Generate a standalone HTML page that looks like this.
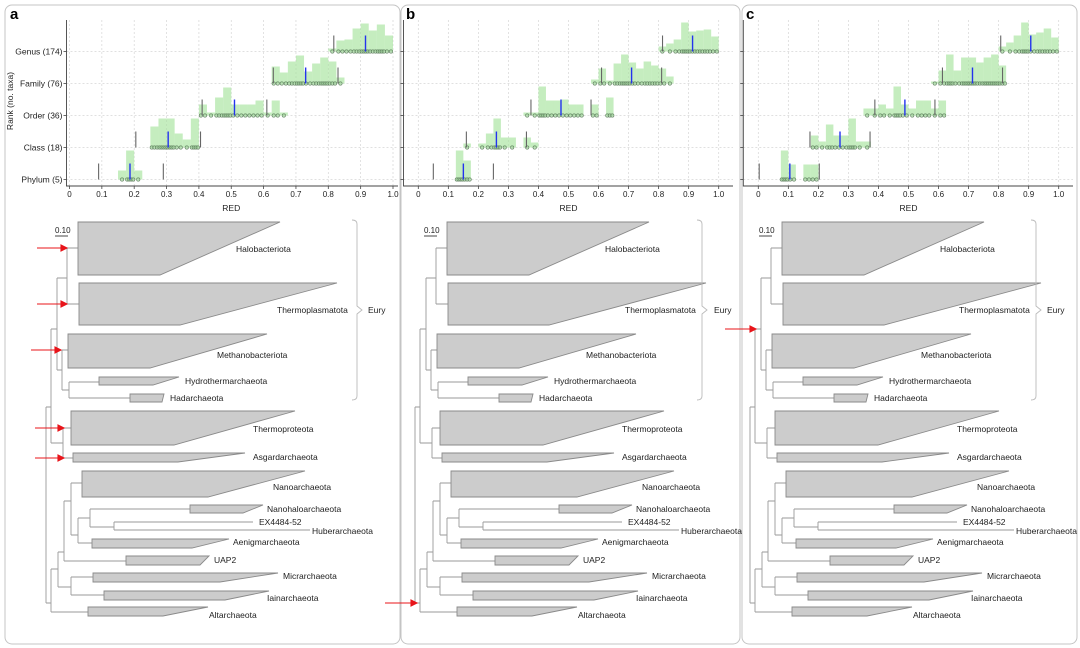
<!DOCTYPE html>
<html><head><meta charset="utf-8"><style>
html,body{margin:0;padding:0;background:#fff;}
svg{display:block;font-family:"Liberation Sans",sans-serif;}
</style></head><body>
<svg id="fig" width="1080" height="648" viewBox="0 0 1080 648">
<rect x="0" y="0" width="1080" height="648" fill="#fff"/>
<rect x="5" y="5" width="395" height="639" rx="7" fill="none" stroke="#c4c4c4"/>
<rect x="401" y="5" width="339" height="639" rx="7" fill="none" stroke="#c4c4c4"/>
<rect x="742" y="5" width="335" height="639" rx="7" fill="none" stroke="#c4c4c4"/>
<text x="10" y="19" font-size="15" font-weight="bold">a</text>
<text x="406" y="19" font-size="15" font-weight="bold">b</text>
<text x="746" y="19" font-size="15" font-weight="bold">c</text>
<text transform="translate(13,101) rotate(-90)" font-size="8.5" text-anchor="middle" fill="#222">Rank (no. taxa)</text>
<g id="charts"></g>
<defs>
<g id="tree">
 <g fill="none" stroke="#9a9a9a" stroke-width="0.9">
  <path d="M46,407V603M46,407H51M46,603H51"/>
  <path d="M51,329V443M51,329H57M51,443H63"/>
  <path d="M57,278V370M57,278H67M57,370H62"/>
  <path d="M67,248V304M67,248H78M67,304H79"/>
  <path d="M62,350V390M62,350H68M62,390H69"/>
  <path d="M69,382V398M69,382H99M69,398H130"/>
  <path d="M63,428V458M63,428H71M63,458H73"/>
  <path d="M51,569V612M51,569H58M51,612H88"/>
  <path d="M58,552V587M58,552H64M58,587H71"/>
  <path d="M71,577V595M71,577H93M71,595H104"/>
  <path d="M64,501V561M64,501H71M64,561H126"/>
  <path d="M71,483V535M71,483H82M71,535H78"/>
  <path d="M78,518V543M78,518H90M78,543H92"/>
  <path d="M90,509V527M90,509H190M90,527H114"/>
  <path d="M114,522V530M114,522H253M114,530H310"/>
 </g>
 <g fill="#cccccc" stroke="#8a8a8a" stroke-width="0.9">
  <polygon points="78,222 280,222 160,275 78,275"/>
  <polygon points="79,283 337,283 180,325 79,325"/>
  <polygon points="68,334 267,334 150,368 68,368"/>
  <polygon points="99,377 179,377 153,385 99,385"/>
  <polygon points="130,394 164,394 162,402 130,402"/>
  <polygon points="71,411 295,411 174,445 71,445"/>
  <polygon points="73,453 245,453 178,462 73,462"/>
  <polygon points="82,471 305,471 208,497 82,497"/>
  <polygon points="190,505 263,505 243,513 190,513"/>
  <polygon points="92,539 229,539 192,548 92,548"/>
  <polygon points="126,556 209,556 200,565 126,565"/>
  <polygon points="93,573 278,573 220,582 93,582"/>
  <polygon points="104,591 269,591 225,600 104,600"/>
  <polygon points="88,607 208,607 163,616 88,616"/>
 </g>
 <g font-size="8.5" fill="#222">
  <text x="236" y="252">Halobacteriota</text>
  <text x="217" y="358">Methanobacteriota</text>
  <text x="185" y="384">Hydrothermarchaeota</text>
  <text x="170" y="401">Hadarchaeota</text>
  <text x="253" y="432">Thermoproteota</text>
  <text x="253" y="460">Asgardarchaeota</text>
  <text x="273" y="490">Nanoarchaeota</text>
  <text x="267" y="512">Nanohaloarchaeota</text>
  <text x="259" y="525">EX4484-52</text>
  <text x="312" y="534">Huberarchaeota</text>
  <text x="233" y="545">Aenigmarchaeota</text>
  <text x="214" y="563">UAP2</text>
  <text x="283" y="579">Micrarchaeota</text>
  <text x="267" y="601">Iainarchaeota</text>
  <text x="209" y="618">Altarchaeota</text>
 </g>
 <text x="55" y="233" font-size="8" fill="#222">0.10</text>
 <line x1="55" y1="236" x2="68" y2="236" stroke="#333" stroke-width="0.9"/>
</g>
</defs>
<g><use href="#tree"/></g>
<g transform="translate(369,0)"><use href="#tree"/></g>
<g transform="translate(704,0)"><use href="#tree"/></g>
<g font-size="8.5" fill="#222">
 <text x="277" y="313">Thermoplasmatota</text>
 <text x="625" y="313">Thermoplasmatota</text>
 <text x="959" y="313">Thermoplasmatota</text>
</g>
<g fill="none" stroke="#bbb" stroke-width="0.9">
 <path d="M352,220Q357,220 357,224V306L362,310L357,314V396Q357,400 352,400"/>
 <path d="M697,220Q702,220 702,224V306L707,310L702,314V396Q702,400 697,400"/>
 <path d="M1031,220Q1036,220 1036,224V306L1041,310L1036,314V396Q1036,400 1031,400"/>
</g>
<text x="368" y="313" font-size="8.5" fill="#222">Eury</text>
<text x="714" y="313" font-size="8.5" fill="#222">Eury</text>
<text x="1047" y="313" font-size="8.5" fill="#222">Eury</text>
<g stroke="#e8141a" stroke-width="1.1" fill="#e8141a">
 <g><line x1="37" y1="248" x2="62" y2="248"/><polygon points="67,248 61,245 61,251"/></g>
 <g><line x1="37" y1="304" x2="62" y2="304"/><polygon points="67,304 61,301 61,307"/></g>
 <g><line x1="31" y1="350" x2="56" y2="350"/><polygon points="61,350 55,347 55,353"/></g>
 <g><line x1="35" y1="428" x2="59" y2="428"/><polygon points="64,428 58,425 58,431"/></g>
 <g><line x1="35" y1="458" x2="59" y2="458"/><polygon points="64,458 58,455 58,461"/></g>
 <g><line x1="385" y1="603" x2="412" y2="603"/><polygon points="417,603 411,600 411,606"/></g>
 <g><line x1="725" y1="329" x2="751" y2="329"/><polygon points="756,329 750,326 750,332"/></g>
</g>
</svg>
<script>
const rankLabels = ["Genus (174)","Family (76)","Order (36)","Class (18)","Phylum (5)"];
const xTickValues = [0,0.1,0.2,0.3,0.4,0.5,0.6,0.7,0.8,0.9,1.0];
const xTickLabels = ["0","0.1","0.2","0.3","0.4","0.5","0.6","0.7","0.8","0.9","1.0"];
const binWidth = 0.025;
const histStartA = [0.8,0.625,0.4,0.25,0.15];
const histA = [[3,11,12,23,28,21,27,16],[17,11,22,28,12,20,26,22,6],[11,3,18,28,11,11,11,15,3,15,3],[21,29,29,14,8,29],[9,29,9]];
const grayA = [[0.817],[0.63,0.83],[0.41,0.61],[0.205,0.405],[0.09,0.29]];
const medianA = [0.915,0.73,0.51,0.305,0.187];
const histStartB = [0.8,0.575,0.35,0.15,0.125];
const histB = [[5,8,12,29,20,21,22,15],[4,15,3,20,29,21,15,22,18,15,7],[3,3,29,15,15,16,11,11,0,11,0,18],[4,0,4,14,29,10,10,0,10,5],[29,19]];
const grayB = [[0.813],[0.61,0.81],[0.375,0.575],[0.16,0.36],[0.05,0.25]];
const medianB = [0.913,0.71,0.475,0.26,0.15];
const histStartC = [0.8,0.575,0.35,0.175,0.075];
const histC = [[5,9,16,29,17,19,23,14],[2,13,29,13,26,26,21,26,29,18],[7,7,11,7,29,11,7,15,15,7,15],[12,6,23,12,12,29,6,6],[29,15,0,15,15]];
const grayC = [[0.807],[0.613,0.813],[0.388,0.588],[0.172,0.372],[0.003,0.203]];
const medianC = [0.907,0.713,0.488,0.272,0.105];

const NS = "http://www.w3.org/2000/svg";
const root = document.getElementById("charts");
function mk(tag, attrs, parent){ const e=document.createElementNS(NS,tag); for(const k in attrs) e.setAttribute(k,attrs[k]); parent.appendChild(e); return e; }
const rowY = i => 51.5 + i*32;
const baseY = 186;

function drawPanel(id, x0, x1, axisX, axisEnd, starts, hists, grays, medians, showLabels){
  const g = mk("g",{},root);
  
  
  const xs = v => x0 + v*(x1-x0);
  xTickValues.forEach((v,i)=>{
    const l = mk("line",{x1:xs(v),x2:xs(v),y1:20,y2:baseY,stroke:"#d6d6d6","stroke-dasharray":"2,2","stroke-width":0.7},g);
    
    
    mk("line",{x1:xs(v),x2:xs(v),y1:baseY,y2:baseY+3,stroke:"#444","stroke-width":0.8},g);
    const tx = mk("text",{x:xs(v),y:baseY+11,"font-size":8,"text-anchor":"middle",fill:"#222"},g);
    tx.textContent = xTickLabels[i];
    
    
  });
  rankLabels.forEach((r,i)=>{
    const y=rowY(i);
    const l = mk("line",{x1:axisX,x2:axisEnd,y1:y,y2:y,stroke:"#d6d6d6","stroke-dasharray":"2,2","stroke-width":0.7},g);
    
    
    mk("line",{x1:axisX-3,x2:axisX,y1:y,y2:y,stroke:"#444","stroke-width":0.8},g);
    if(showLabels){
      const t = mk("text",{x:axisX-4,y:y+3,"font-size":8.5,"text-anchor":"end",fill:"#222"},g);
      t.textContent = r;
      
      
    }
  });
  const ax = mk("path",{d:`M${axisX},20V${baseY}H${axisEnd}`,fill:"none",stroke:"#444","stroke-width":0.9},g);
  
  
  const rt = mk("text",{x:(x0+x1)/2,y:baseY+25,"font-size":8.5,"text-anchor":"middle",fill:"#222"},g);
  rt.textContent = "RED";
  
  
  hists.forEach((arr,i)=>{
    const y=rowY(i);
    arr.forEach((h,j)=>{
      if(h<=0) return;
      const a=starts[i]+j*binWidth;
      const r = mk("rect",{x:xs(a),y:y-h,width:xs(a+binWidth)-xs(a),height:h,fill:"#a6e39c","fill-opacity":0.65},g);
      
      
    });
    arr.forEach((h,j)=>{
      if(h<=0) return;
      const a=starts[i]+j*binWidth;
      const n=Math.max(1,Math.round(h/7));
      for(let k=0;k<n;k++){
        const c = mk("circle",{cx:xs(a+binWidth*(k+0.5)/n),cy:y,r:1.7,fill:"#9fd39a","fill-opacity":0.6,stroke:"#5f7f5f","stroke-width":0.6},g);
        
        
      }
    });
    grays[i].forEach(v=>{
      const l = mk("line",{x1:xs(v),x2:xs(v),y1:y-16,y2:y,stroke:"#666","stroke-width":1.1},g);
      
      
    });
    const m = mk("line",{x1:xs(medians[i]),x2:xs(medians[i]),y1:y-16,y2:y,stroke:"#2433ee","stroke-width":1.4},g);
    
    
  });
}
drawPanel("a",69.5,393,66.5,398,histStartA,histA,grayA,medianA,true);
drawPanel("b",418.3,718.7,403.5,733,histStartB,histB,grayB,medianB,false);
drawPanel("c",758.3,1058.7,743.3,1073,histStartC,histC,grayC,medianC,false);
</script>
</body></html>
